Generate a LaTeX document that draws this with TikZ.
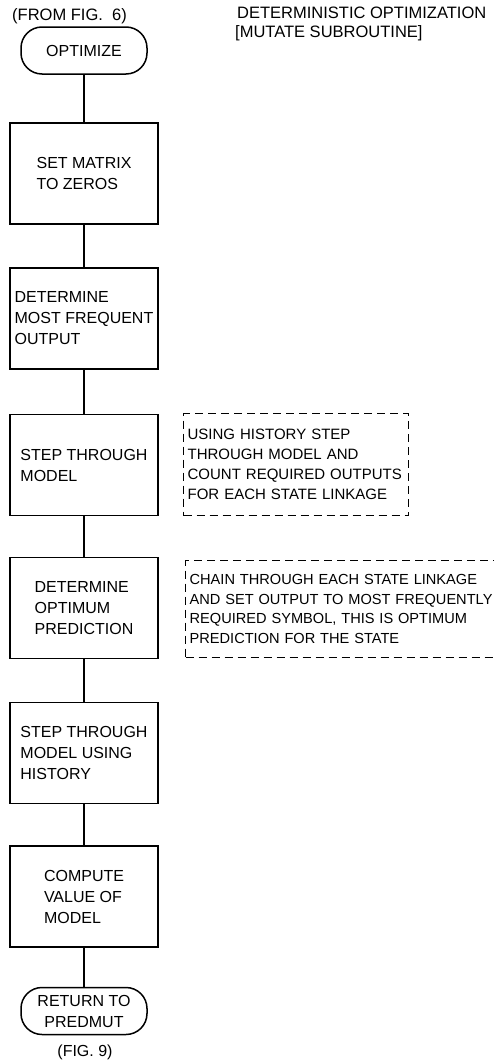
\documentclass[tikz,border=0pt]{standalone}
\usepackage{fontspec}
\setmainfont{Liberation Sans}
\begin{document}
\begin{tikzpicture}[x=1pt, y=-1pt,
        font=\fontsize{16}{21}\selectfont,
        caixa/.style={draw, line width=1.5pt, minimum width=148pt, minimum height=101pt, align=left, inner sep=3pt},
        terminal/.style={draw, line width=1.5pt, rounded corners=21pt, minimum width=126pt, minimum height=47pt, align=center},
        nota/.style={draw, line width=1.3pt, dash pattern=on 8pt off 5pt, align=left, inner sep=4pt, anchor=north west,
            font=\fontsize{15}{20}\selectfont},
        ligacao/.style={line width=1.5pt}]

        % 1. VARIÁVEIS (posição do eixo do fluxograma)
        \def\X{84}    % centro horizontal das caixas

        % área da figura (a nota de baixo sai pela direita)
        \clip (0,0) rectangle (494,1060);

        % 2. TÍTULOS
        \node[anchor=base west, inner sep=0pt, font=\fontsize{16.5}{21}\selectfont] (origem) at (12,20.5) {(FROM FIG.\ \ 6)};
        \node[anchor=base west, inner sep=0pt, font=\fontsize{16.5}{21}\selectfont] (titulo) at (237,18.5) {DETERMINISTIC OPTIMIZATION};
        \node[anchor=base west, inner sep=0pt, font=\fontsize{16.5}{21}\selectfont] (subtitulo) at (235,37.5) {{[}MUTATE SUBROUTINE{]}};

        % ==========================================
        % 3. BLOCOS DO FLUXOGRAMA
        % ==========================================
        \node[terminal] (otimiza) at (\X,50.5) {OPTIMIZE};
        \node[caixa] (zera) at (\X,173.5) {SET MATRIX\\TO ZEROS};
        \node[caixa] (frequente) at (\X,318.5) {DETERMINE\\MOST FREQUENT\\OUTPUT};
        \node[caixa] (percorre) at (\X,465) {STEP THROUGH\\MODEL};
        \node[caixa] (predicao) at (\X,608) {DETERMINE\\OPTIMUM\\PREDICTION};
        \node[caixa] (historia) at (\X,753) {STEP THROUGH\\MODEL USING\\HISTORY};
        \node[caixa] (valor) at (\X,896.5) {COMPUTE\\VALUE OF\\MODEL};
        \node[terminal] (retorno) at (\X,1011) {RETURN TO\\PREDMUT};
        \node[anchor=base, inner sep=0pt] (destino) at (\X+1,1056) {(FIG. 9)};

        % ==========================================
        % 4. NOTAS TRACEJADAS
        % ==========================================
        \node[nota, text width=217pt, minimum height=102pt] (nota1) at (183,413)
            {USING HISTORY STEP\\THROUGH MODEL AND\\COUNT REQUIRED OUTPUTS\\FOR EACH STATE LINKAGE};
        \node[nota, text width=322pt, minimum height=97pt, font=\fontsize{14.6}{19.5}\selectfont] (nota2) at (185,560)
            {CHAIN THROUGH EACH STATE LINKAGE\\AND SET OUTPUT TO MOST FREQUENTLY\\REQUIRED SYMBOL, THIS IS OPTIMUM\\PREDICTION FOR THE STATE};

        % 5. LIGAÇÕES ENTRE OS BLOCOS
        \draw[ligacao] (otimiza) -- (zera);
        \draw[ligacao] (zera) -- (frequente);
        \draw[ligacao] (frequente) -- (percorre);
        \draw[ligacao] (percorre) -- (predicao);
        \draw[ligacao] (predicao) -- (historia);
        \draw[ligacao] (historia) -- (valor);
        \draw[ligacao] (valor) -- (retorno);
    \end{tikzpicture}
\end{document}
